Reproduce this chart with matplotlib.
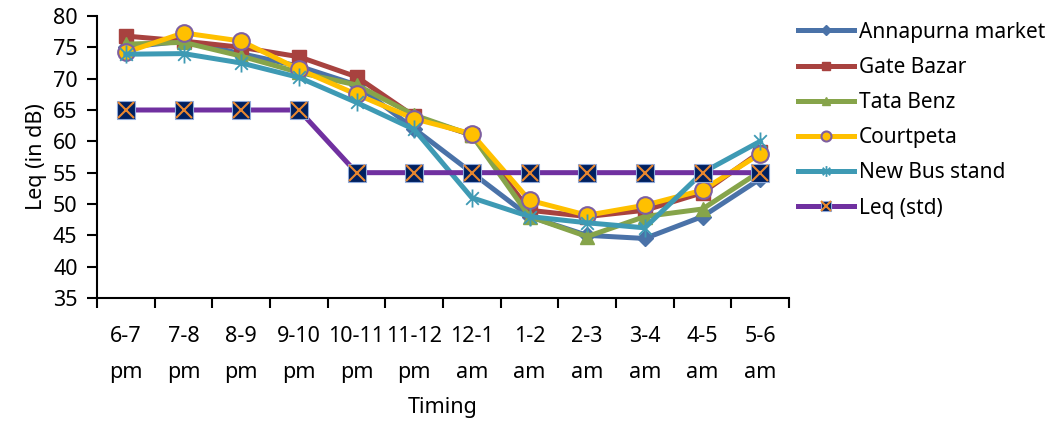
import matplotlib
matplotlib.use("Agg")
import matplotlib.pyplot as plt
from matplotlib.path import Path
from matplotlib.legend_handler import HandlerTuple

## Data
timings = ["6-7\npm", "7-8\npm", "8-9\npm", "9-10\npm", "10-11\npm", "11-12\npm",
           "12-1\nam", "1-2\nam", "2-3\nam", "3-4\nam", "4-5\nam", "5-6\nam"]

annapurna = [75.0, 76.0, 74.0, 72.0, 69.0, 62.0, 55.0, 48.0, 45.0, 44.5, 48.0, 54.0]
gate_bazar = [76.8, 76.0, 75.0, 73.5, 70.3, 64.0, 61.0, 49.0, 48.0, 49.0, 51.8, 58.3]
tata_benz = [75.5, 75.8, 73.6, 71.0, 69.0, 64.2, 61.0, 48.0, 44.8, 48.0, 49.2, 55.2]
courtpeta = [74.2, 77.3, 76.0, 71.5, 67.5, 63.6, 61.2, 50.6, 48.2, 49.8, 52.2, 58.0]
new_bus_stand = [73.9, 74.0, 72.5, 70.2, 66.2, 61.9, 51.0, 48.0, 47.0, 46.2, 55.0, 60.0]
leq_std = [65, 65, 65, 65, 55, 55, 55, 55, 55, 55, 55, 55]

# Asterisk marker: vertical stroke plus a cross
asterisk = Path(
    [(0, -1), (0, 1), (-0.7, -0.7), (0.7, 0.7), (-0.7, 0.7), (0.7, -0.7)],
    [Path.MOVETO, Path.LINETO, Path.MOVETO, Path.LINETO, Path.MOVETO, Path.LINETO],
)

plt.rcParams["font.family"] = ["Noto Sans", "DejaVu Sans"]

fig = plt.figure(figsize=(10.52, 4.26), dpi=100)
ax = fig.add_axes([97 / 1052, 1 - 298 / 426, (789 - 97) / 1052, (298 - 16) / 426])

x = list(range(len(timings)))
lw = 3.6

ax.plot(x, annapurna, color="#4A72A8", lw=lw, marker="D", ms=8,
        mfc="#4A72A8", mec="#4A72A8", label="Annapurna market", solid_joinstyle="round")
ax.plot(x, gate_bazar, color="#A8423F", lw=lw, marker="s", ms=10,
        mfc="#A8423F", mec="#A8423F", label="Gate Bazar", solid_joinstyle="round")
ax.plot(x, tata_benz, color="#86A44A", lw=lw, marker="^", ms=10,
        mfc="#86A44A", mec="#86A44A", label="Tata Benz", solid_joinstyle="round")
ax.plot(x, courtpeta, color="#FFC000", lw=lw, marker="o", ms=12,
        mfc="#FFC000", mec="#7E5FA0", mew=1.5, label="Courtpeta", solid_joinstyle="round")
ax.plot(x, new_bus_stand, color="#3E9AB4", lw=lw, marker=asterisk, ms=13,
        mec="#3E9AB4", mew=1.3, label="New Bus stand", solid_joinstyle="round")
leq_line, = ax.plot(x, leq_std, color="#7030A0", lw=lw, marker="s", ms=13,
                    mfc="#002060", mec="#8FAADC", mew=0.8, solid_joinstyle="round")
leq_cross, = ax.plot(x, leq_std, ls="none", marker="x", ms=11,
                     mec="#E8872F", mew=1.5)

# Axes styling
ax.set_xlim(-0.5, len(timings) - 0.5)
ax.set_ylim(35, 80)
ax.set_yticks(range(35, 81, 5))
ax.set_xticks(x)
ax.set_xticklabels(timings, fontsize=15.5, linespacing=1.95)
ax.set_xticks([i - 0.5 for i in range(len(timings) + 1)], minor=True)
ax.tick_params(axis="x", which="major", length=0, pad=20)
ax.tick_params(axis="x", which="minor", length=7, width=1.5, direction="out")
ax.tick_params(axis="y", labelsize=15.5, length=7, width=1.5, direction="out", pad=7)
for side in ["top", "right"]:
    ax.spines[side].set_visible(False)
for side in ["left", "bottom"]:
    ax.spines[side].set_linewidth(1.5)

ax.set_xlabel("Timing", fontsize=15.5, labelpad=10)
ax.set_ylabel("Leq (in dB)", fontsize=15.5, labelpad=4)

# Legend on the right, Leq entry built from the square and cross markers
handles, labels = ax.get_legend_handles_labels()
handles.append((leq_line, leq_cross))
labels.append("Leq (std)")
fig.legend(handles, labels, loc="upper left", bbox_to_anchor=(779 / 1052, 1 - 3 / 426),
           frameon=False, fontsize=15, handlelength=2.7, handletextpad=0.25,
           labelspacing=0.68, markerscale=0.6,
           handler_map={tuple: HandlerTuple(ndivide=1)})

fig.savefig("out.png", dpi=100)
